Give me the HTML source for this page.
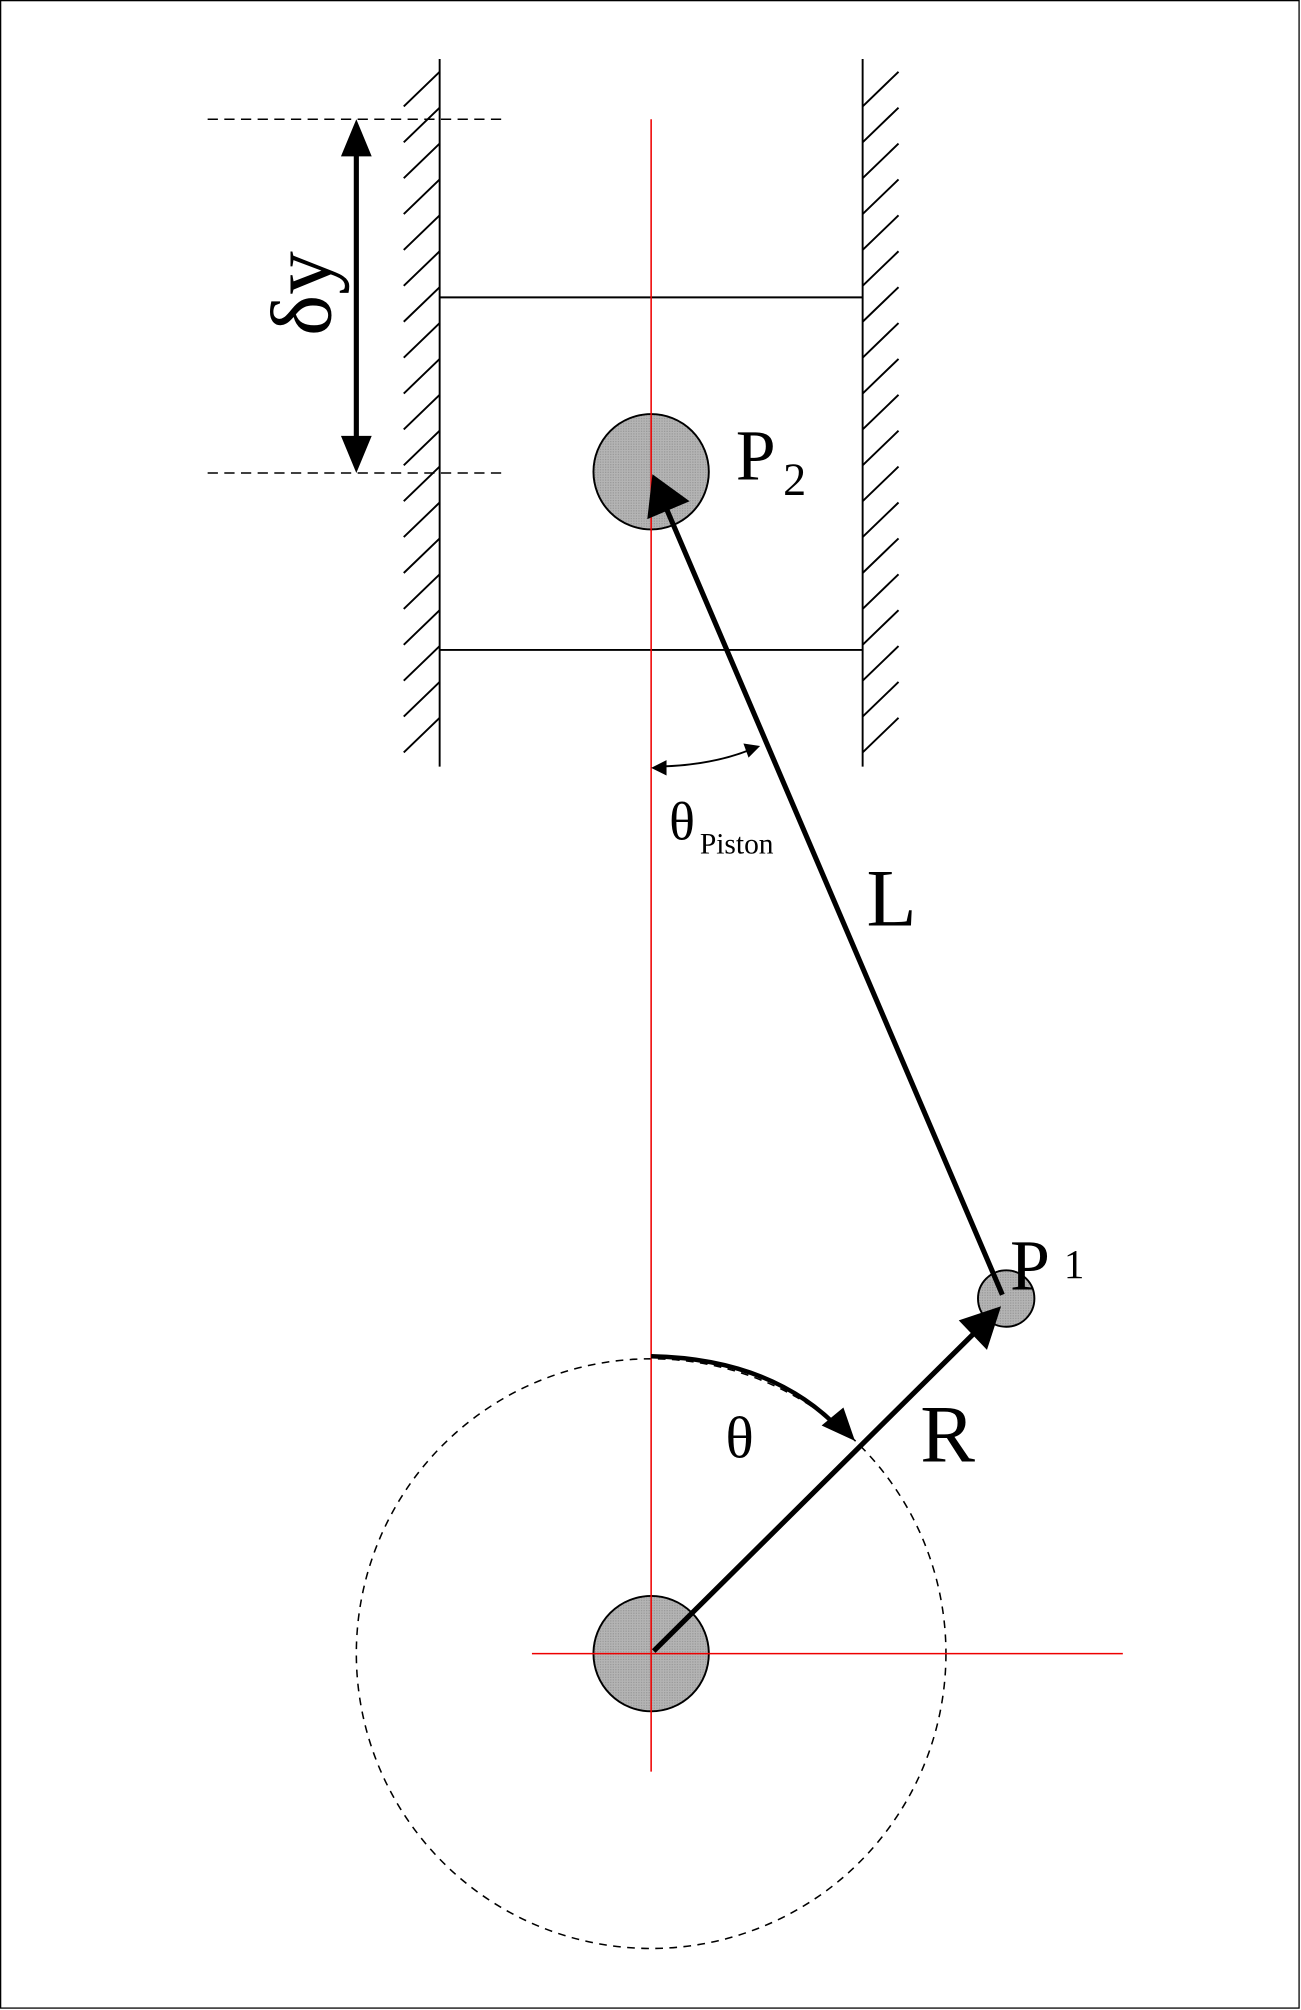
<!DOCTYPE html>
<html><head><style>html,body{margin:0;padding:0;background:#fff}svg{display:block}</style></head>
<body>
<svg width="1301" height="2010" viewBox="0 0 1015 1568" preserveAspectRatio="none" xmlns="http://www.w3.org/2000/svg">
<defs>
<pattern id="g" width="2" height="2" patternUnits="userSpaceOnUse"><rect width="2" height="2" fill="#b4b4b4"/><rect width="1" height="1" fill="#9a9a9a"/></pattern>
</defs>
<rect x="0.5" y="0.5" width="1013" height="1566" fill="#fff" stroke="#000" stroke-width="1"/>
<line x1="343" y1="46" x2="343" y2="598" stroke="#000" stroke-width="1.5"/>
<line x1="673" y1="46" x2="673" y2="598" stroke="#000" stroke-width="1.5"/>
<g stroke="#000" stroke-width="1.5">
<path d="M315,83 l28,-27 M315,111 l28,-27 M315,139 l28,-27 M315,167 l28,-27 M315,195 l28,-27 M315,223 l28,-27 M315,251 l28,-27 M315,279 l28,-27 M315,307 l28,-27 M315,335 l28,-27 M315,363 l28,-27 M315,391 l28,-27 M315,419 l28,-27 M315,447 l28,-27 M315,475 l28,-27 M315,503 l28,-27 M315,531 l28,-27 M315,559 l28,-27 M315,587 l28,-27"/>
<path d="M673,83 l28,-27 M673,111 l28,-27 M673,139 l28,-27 M673,167 l28,-27 M673,195 l28,-27 M673,223 l28,-27 M673,251 l28,-27 M673,279 l28,-27 M673,307 l28,-27 M673,335 l28,-27 M673,363 l28,-27 M673,391 l28,-27 M673,419 l28,-27 M673,447 l28,-27 M673,475 l28,-27 M673,503 l28,-27 M673,531 l28,-27 M673,559 l28,-27 M673,587 l28,-27"/>
</g>
<line x1="343" y1="232" x2="673" y2="232" stroke="#000" stroke-width="1.5"/>
<line x1="343" y1="507" x2="673" y2="507" stroke="#000" stroke-width="1.5"/>
<line x1="162" y1="93" x2="395" y2="93" stroke="#000" stroke-width="1.2" stroke-dasharray="8,5"/>
<line x1="162" y1="369" x2="395" y2="369" stroke="#000" stroke-width="1.2" stroke-dasharray="8,5"/>
<line x1="278" y1="115" x2="278" y2="346" stroke="#000" stroke-width="4"/>
<polygon points="278,93 266,122 290,122" fill="#000"/>
<polygon points="278,369 266,340 290,340" fill="#000"/>
<text transform="translate(258,262) rotate(-90)" font-family="Liberation Serif, serif" font-size="68">δy</text>
<circle cx="508" cy="1290" r="230" fill="none" stroke="#000" stroke-width="1.2" stroke-dasharray="6,5"/>
<circle cx="508" cy="368" r="45" fill="url(#g)" stroke="#000" stroke-width="1.5"/>
<circle cx="508" cy="1290" r="45" fill="url(#g)" stroke="#000" stroke-width="1.5"/>
<circle cx="785" cy="1013" r="22" fill="url(#g)" stroke="#000" stroke-width="1.5"/>
<line x1="508" y1="93" x2="508" y2="1382" stroke="#e00" stroke-width="1.2"/>
<line x1="415" y1="1290" x2="876" y2="1290" stroke="#e00" stroke-width="1.2"/>
<line x1="782" y1="1010" x2="520" y2="397" stroke="#000" stroke-width="4"/>
<polygon points="509,370 505,405 538,391" fill="#000"/>
<line x1="510" y1="1288" x2="760" y2="1040" stroke="#000" stroke-width="4"/>
<polygon points="781,1019 748,1030 770,1053" fill="#000"/>
<path d="M508,1058 Q605,1060 658,1118" fill="none" stroke="#000" stroke-width="3.5"/>
<polygon points="667,1124 641,1112 658,1098" fill="#000"/>
<path d="M514,598 Q555,597 585,585" fill="none" stroke="#000" stroke-width="1.5"/>
<polygon points="508,599 520,593 520,605" fill="#000"/>
<polygon points="593,582 580,580 584,591" fill="#000"/>
<g font-family="Liberation Serif, serif" fill="#000">
<text x="574" y="374" font-size="56">P</text><text x="611" y="386" font-size="36">2</text>
<text x="788" y="1006" font-size="56">P</text><text x="830" y="997" font-size="32">1</text>
<text x="676" y="722" font-size="64">L</text>
<text x="718" y="1140" font-size="64">R</text>
<text x="566" y="1137" font-size="46">θ</text>
<text x="522" y="655" font-size="42">θ</text><text x="546" y="666" font-size="23">Piston</text>
</g>
</svg>
</body></html>
